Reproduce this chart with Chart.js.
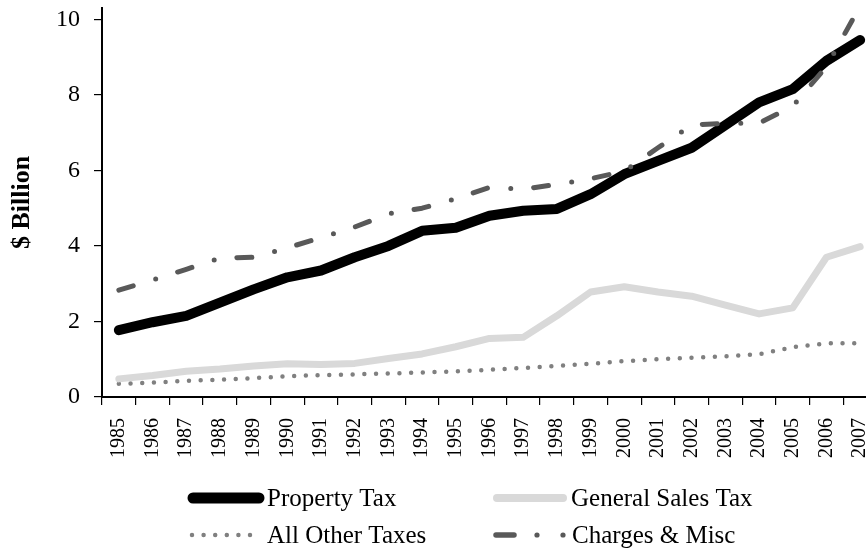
<!DOCTYPE html>
<html>
<head>
<meta charset="utf-8">
<script src="https://cdn.jsdelivr.net/npm/chart.js@4"></script>
<style>
  html, body { margin: 0; padding: 0; background: #fff; }
  #wrap { width: 866px; height: 548px; overflow: hidden; }
</style>
</head>
<body>
<div id="wrap"><canvas id="chart" width="880" height="548"></canvas></div>
<script>
const years = ["1985", "1986", "1987", "1988", "1989", "1990", "1991", "1992", "1993", "1994", "1995", "1996",
               "1997", "1998", "1999", "2000", "2001", "2002", "2003", "2004", "2005", "2006", "2007"];
const propertyTax = [1.77, 1.98, 2.15, 2.5, 2.85, 3.17, 3.35, 3.7, 4.0, 4.4, 4.48, 4.8,
                     4.93, 4.98, 5.37, 5.9, 6.25, 6.6, 7.2, 7.8, 8.15, 8.9, 9.45];
const generalSalesTax = [0.48, 0.57, 0.68, 0.74, 0.82, 0.88, 0.86, 0.89, 1.02, 1.14, 1.33, 1.55,
                         1.58, 2.15, 2.78, 2.92, 2.78, 2.67, 2.43, 2.2, 2.36, 3.7, 3.98];
const allOtherTaxes = [0.35, 0.38, 0.43, 0.46, 0.5, 0.55, 0.58, 0.6, 0.62, 0.65, 0.68, 0.72,
                       0.77, 0.82, 0.88, 0.95, 1.0, 1.04, 1.08, 1.13, 1.32, 1.42, 1.42];
const chargesMisc = [2.83, 3.1, 3.38, 3.68, 3.7, 3.95, 4.22, 4.5, 4.85, 5.0, 5.25, 5.55,
                     5.5, 5.63, 5.78, 5.98, 6.6, 7.2, 7.25, 7.25, 7.7, 8.75, 10.35];
const yTicks = [0, 2, 4, 6, 8, 10];

const serif = "'Liberation Serif', 'Times New Roman', serif";

// legend drawn by hand so the two columns line up like the original
const legendPlugin = {
    id: "customLegend",
    afterDraw(chart) {
        const ctx = chart.ctx;
        ctx.save();
        ctx.lineCap = "round";
        ctx.font = "25px " + serif;
        ctx.fillStyle = "#000";
        ctx.textBaseline = "middle";
        ctx.textAlign = "left";

        const row1 = 498, row2 = 535;

        // Property Tax
        ctx.strokeStyle = "#000";
        ctx.lineWidth = 11;
        ctx.beginPath(); ctx.moveTo(193, row1); ctx.lineTo(259, row1); ctx.stroke();
        ctx.fillText("Property Tax", 267, row1 + 1);

        // General Sales Tax
        ctx.strokeStyle = "#d9d9d9";
        ctx.lineWidth = 8;
        ctx.beginPath(); ctx.moveTo(497, row1); ctx.lineTo(563, row1); ctx.stroke();
        ctx.fillText("General Sales Tax", 571, row1 + 1);

        // All Other Taxes
        ctx.strokeStyle = "#808080";
        ctx.lineWidth = 4.5;
        ctx.setLineDash([0, 11.6]);
        ctx.beginPath(); ctx.moveTo(192, row2); ctx.lineTo(252, row2); ctx.stroke();
        ctx.setLineDash([]);
        ctx.fillText("All Other Taxes", 267, row2 + 1);

        // Charges & Misc
        ctx.strokeStyle = "#595959";
        ctx.fillStyle = "#595959";
        ctx.lineWidth = 5.5;
        ctx.beginPath(); ctx.moveTo(496, row2); ctx.lineTo(514, row2); ctx.stroke();
        ctx.beginPath(); ctx.arc(537, row2, 2.6, 0, Math.PI * 2); ctx.fill();
        ctx.beginPath(); ctx.arc(563, row2, 2.6, 0, Math.PI * 2); ctx.fill();
        ctx.fillStyle = "#000";
        ctx.fillText("Charges & Misc", 572, row2 + 1);

        ctx.restore();
    }
};

function noPadding(scale) {
    scale.paddingTop = 0;
    scale.paddingBottom = 0;
    scale.paddingLeft = 0;
    scale.paddingRight = 0;
}

const ctx = document.getElementById("chart").getContext("2d");
new Chart(ctx, {
    type: "line",
    data: {
        labels: years,
        datasets: [
            {
                label: "Property Tax",
                data: propertyTax,
                borderColor: "#000",
                borderWidth: 10,
                order: 1
            },
            {
                label: "General Sales Tax",
                data: generalSalesTax,
                borderColor: "#d9d9d9",
                borderWidth: 7,
                order: 2
            },
            {
                label: "All Other Taxes",
                data: allOtherTaxes,
                borderColor: "#808080",
                borderWidth: 4.5,
                borderDash: [0, 11.7],
                order: 3
            },
            {
                label: "Charges & Misc",
                data: chargesMisc,
                borderColor: "#595959",
                borderWidth: 5,
                borderDash: [15, 23.5, 0, 23],
                order: 0
            }
        ]
    },
    options: {
        responsive: false,
        animation: false,
        clip: false,
        layout: { padding: { top: 8, right: 3, left: 0, bottom: 0 } },
        elements: {
            line: { tension: 0, borderCapStyle: "round", borderJoinStyle: "round", fill: false },
            point: { radius: 0, hoverRadius: 0 }
        },
        plugins: {
            legend: { display: false },
            tooltip: { enabled: false }
        },
        scales: {
            x: {
                offset: true,
                grid: { offset: true, drawOnChartArea: false, drawTicks: true, tickLength: 8, color: "#000", lineWidth: 1.2 },
                border: { display: true, color: "#000", width: 2 },
                ticks: {
                    autoSkip: false,
                    minRotation: 90,
                    maxRotation: 90,
                    padding: 13,
                    color: "#000",
                    font: { family: serif, size: 20 }
                },
                afterFit(scale) { scale.height = 151; noPadding(scale); }
            },
            y: {
                min: 0,
                max: 10.3,
                grid: { drawOnChartArea: false, drawTicks: true, tickLength: 8, color: "#000", lineWidth: 1.2 },
                border: { display: true, color: "#000", width: 2 },
                ticks: {
                    padding: 14,
                    color: "#000",
                    font: { family: serif, size: 24 }
                },
                afterBuildTicks(scale) { scale.ticks = yTicks.map(v => ({ value: v })); },
                title: {
                    display: true,
                    text: "$ Billion",
                    color: "#000",
                    padding: { top: 7, bottom: 0 },
                    font: { family: serif, size: 26, weight: "bold" }
                },
                afterFit(scale) { scale.width = 102; noPadding(scale); }
            }
        }
    },
    plugins: [legendPlugin]
});
</script>
</body>
</html>
